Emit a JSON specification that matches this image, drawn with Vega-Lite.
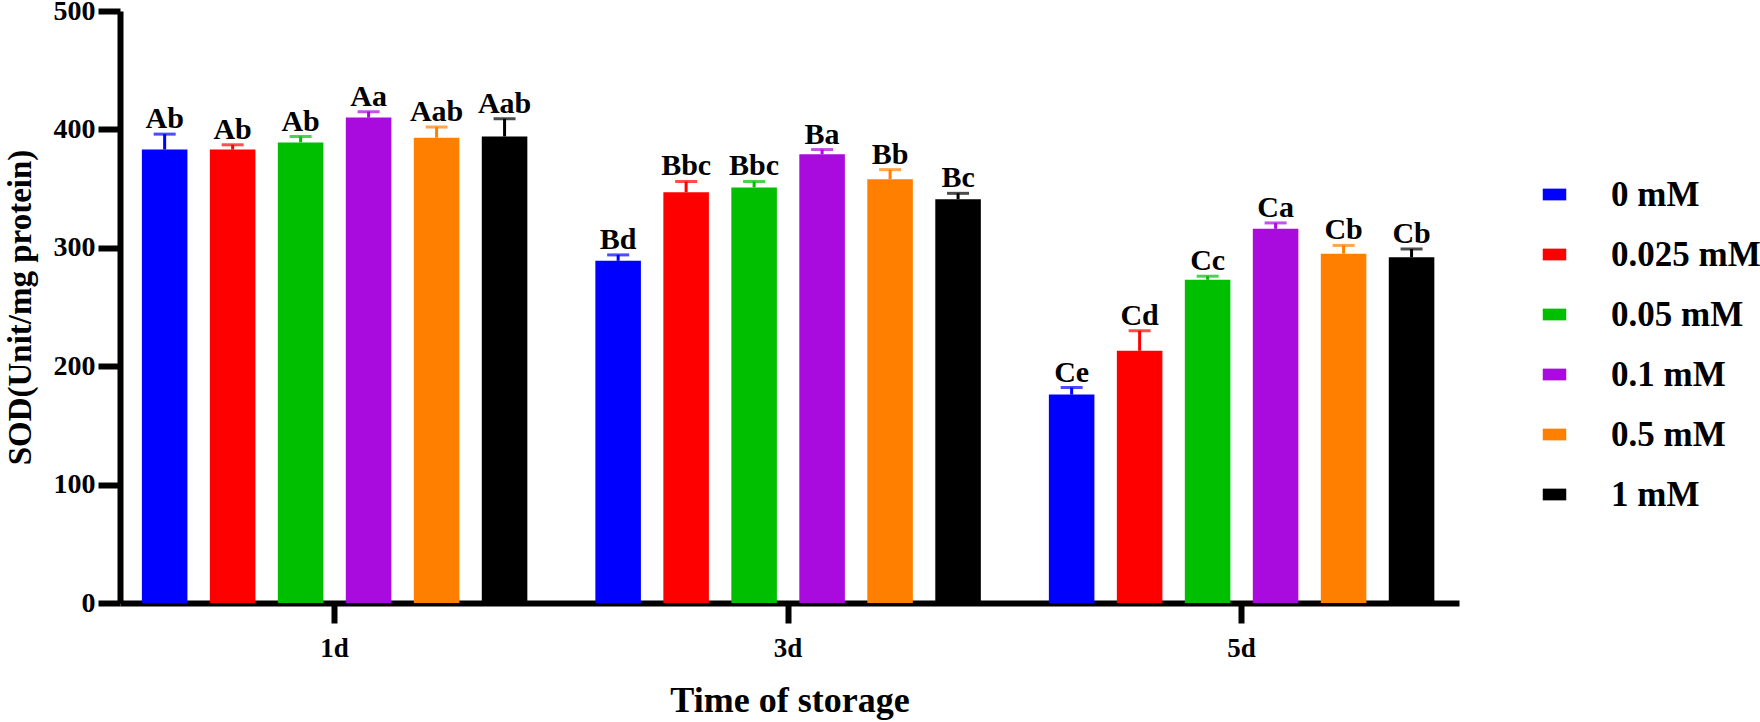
{
  "$schema": "https://vega.github.io/schema/vega-lite/v6.json",
  "autosize": {"type": "none"},
  "width": 1339,
  "height": 592,
  "padding": {"left": 120, "top": 11, "right": 301, "bottom": 119},
  "background": "white",
  "data": {
    "values": [
      {"day": "1d", "conc": "0 mM", "mean": 383, "hi": 396, "label": "Ab"},
      {"day": "1d", "conc": "0.025 mM", "mean": 383, "hi": 387, "label": "Ab"},
      {"day": "1d", "conc": "0.05 mM", "mean": 389, "hi": 394, "label": "Ab"},
      {"day": "1d", "conc": "0.1 mM", "mean": 410, "hi": 415, "label": "Aa"},
      {"day": "1d", "conc": "0.5 mM", "mean": 393, "hi": 402, "label": "Aab"},
      {"day": "1d", "conc": "1 mM", "mean": 394, "hi": 409, "label": "Aab"},
      {"day": "3d", "conc": "0 mM", "mean": 289, "hi": 294, "label": "Bd"},
      {"day": "3d", "conc": "0.025 mM", "mean": 347, "hi": 356, "label": "Bbc"},
      {"day": "3d", "conc": "0.05 mM", "mean": 351, "hi": 356, "label": "Bbc"},
      {"day": "3d", "conc": "0.1 mM", "mean": 379, "hi": 383, "label": "Ba"},
      {"day": "3d", "conc": "0.5 mM", "mean": 358, "hi": 366, "label": "Bb"},
      {"day": "3d", "conc": "1 mM", "mean": 341, "hi": 346, "label": "Bc"},
      {"day": "5d", "conc": "0 mM", "mean": 176, "hi": 182, "label": "Ce"},
      {"day": "5d", "conc": "0.025 mM", "mean": 213, "hi": 230, "label": "Cd"},
      {"day": "5d", "conc": "0.05 mM", "mean": 273, "hi": 276, "label": "Cc"},
      {"day": "5d", "conc": "0.1 mM", "mean": 316, "hi": 321, "label": "Ca"},
      {"day": "5d", "conc": "0.5 mM", "mean": 295, "hi": 302, "label": "Cb"},
      {"day": "5d", "conc": "1 mM", "mean": 292, "hi": 299, "label": "Cb"}
    ]
  },
  "encoding": {
    "x": {
      "field": "day",
      "type": "nominal",
      "scale": {"paddingInner": 0.15, "paddingOuter": 0.0513, "align": 0.47},
      "axis": {
        "title": "Time of storage",
        "labelAngle": 0,
        "labelFontSize": 27,
        "labelPadding": 12,
        "titleFontSize": 36,
        "titlePadding": 22,
        "tickSize": 20
      }
    },
    "xOffset": {
      "field": "conc",
      "type": "nominal",
      "sort": ["0 mM", "0.025 mM", "0.05 mM", "0.1 mM", "0.5 mM", "1 mM"],
      "scale": {"paddingInner": 0.33, "paddingOuter": 0}
    }
  },
  "layer": [
    {
      "mark": {"type": "bar"},
      "encoding": {
        "y": {
          "field": "mean",
          "type": "quantitative",
          "scale": {"domain": [0, 500], "nice": false},
          "axis": {
            "title": "SOD(Unit/mg protein)",
            "values": [0, 100, 200, 300, 400, 500],
            "labelFontSize": 28,
            "labelPadding": 3,
            "titleFontSize": 33,
            "titlePadding": 16,
            "tickSize": 22
          }
        },
        "color": {
          "field": "conc",
          "type": "nominal",
          "sort": ["0 mM", "0.025 mM", "0.05 mM", "0.1 mM", "0.5 mM", "1 mM"],
          "scale": {
            "domain": ["0 mM", "0.025 mM", "0.05 mM", "0.1 mM", "0.5 mM", "1 mM"],
            "range": ["#0000ff", "#ff0000", "#00bf00", "#a90ade", "#ff8000", "#000000"]
          },
          "legend": {
            "title": null,
            "orient": "none",
            "legendX": 1417,
            "legendY": 166,
            "padding": 0,
            "symbolType": "M-1,-0.5H1V0.5H-1Z",
            "symbolSize": 552,
            "symbolStrokeWidth": 0,
            "labelFontSize": 35,
            "labelOffset": 39,
            "rowPadding": 24
          }
        }
      }
    },
    {
      "mark": {"type": "rule", "strokeWidth": 3},
      "encoding": {
        "y": {"field": "mean", "type": "quantitative"},
        "y2": {"field": "hi"},
        "color": {"field": "conc", "type": "nominal", "legend": null}
      }
    },
    {
      "mark": {"type": "tick", "size": 22, "thickness": 3},
      "encoding": {
        "y": {"field": "hi", "type": "quantitative"},
        "color": {"field": "conc", "type": "nominal", "legend": null}
      }
    },
    {
      "mark": {"type": "text", "baseline": "alphabetic", "dy": -6, "fontSize": 30, "fontWeight": "bold", "font": "Liberation Serif", "color": "black"},
      "encoding": {
        "y": {"field": "hi", "type": "quantitative"},
        "text": {"field": "label"}
      }
    }
  ],
  "config": {
    "view": {"stroke": null},
    "font": "Liberation Serif",
    "axis": {
      "labelFont": "Liberation Serif",
      "labelFontWeight": "bold",
      "labelColor": "black",
      "titleFont": "Liberation Serif",
      "titleFontWeight": "bold",
      "titleColor": "black",
      "domainColor": "black",
      "domainWidth": 6,
      "tickColor": "black",
      "tickWidth": 6,
      "grid": false
    },
    "legend": {
      "labelFont": "Liberation Serif",
      "labelFontWeight": "bold",
      "labelColor": "black"
    }
  }
}
